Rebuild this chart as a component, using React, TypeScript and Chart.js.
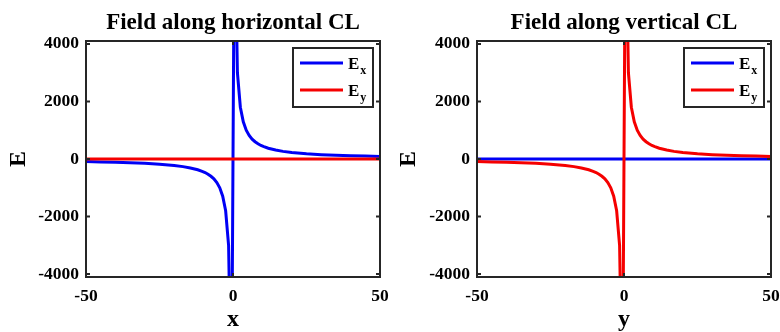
import React, { useEffect, useRef } from "react";
import { Chart, registerables } from "chart.js";

Chart.register(...registerables);

// Sample positions along the centre line (same grid for both cuts)
const positions = [
  -50, -45, -40, -35, -30, -25, -20, -17, -14.5, -12, -10.5, -9.5, -8.5, -7.5,
  -6.5, -5.5, -4.5, -3.5, -2.5, -1.5, -0.5, 0.5, 1.5, 2.5, 3.5, 4.5, 5.5, 6.5,
  7.5, 8.5, 9.5, 10.5, 12, 14.5, 17, 20, 25, 30, 35, 40, 45, 50,
];

// Ex along the horizontal centre line
const exHorizontal = [
  -90, -100, -112, -128, -150, -180, -225, -265, -310, -375, -430, -470, -530,
  -600, -690, -820, -1000, -1290, -1800, -3000, -9000, 9000, 3000, 1800, 1290,
  1000, 820, 690, 600, 530, 470, 430, 375, 310, 265, 225, 180, 150, 128, 112,
  100, 90,
];

// Ey along the vertical centre line
const eyVertical = [
  -90, -100, -112, -128, -150, -180, -225, -265, -310, -375, -430, -470, -530,
  -600, -690, -820, -1000, -1290, -1800, -3000, -9000, 9000, 3000, 1800, 1290,
  1000, 820, 690, 600, 530, 470, 430, 375, 310, 265, 225, 180, 150, 128, 112,
  100, 90,
];

// The transverse component vanishes on each centre line
const zeroPositions = [-50, 50];
const zeroField = [0, 0];

const xTicks = [-50, 0, 50];
const yTicks = [-4000, -2000, 0, 2000, 4000];
const xRange = [-50, 50];
const yRange = [-4100, 4100];

const BLUE = "#0000f5";
const RED = "#f50000";
const AXIS = "#262626";
const FONT = "'Liberation Serif', 'Times New Roman', serif";

type Panel = {
  title: string;
  axisLabel: string;
  ex: { x: number[]; y: number[] };
  ey: { x: number[]; y: number[] };
  yAxisWidth: number;
  padRight: number;
};

const panels: Panel[] = [
  {
    title: "Field along horizontal CL",
    axisLabel: "x",
    ex: { x: positions, y: exHorizontal },
    ey: { x: zeroPositions, y: zeroField },
    yAxisWidth: 86,
    padRight: 10,
  },
  {
    title: "Field along vertical CL",
    axisLabel: "y",
    ex: { x: zeroPositions, y: zeroField },
    ey: { x: positions, y: eyVertical },
    yAxisWidth: 87,
    padRight: 9,
  },
];

const legendEntries = [
  { base: "E", sub: "x", color: BLUE },
  { base: "E", sub: "y", color: RED },
];

// Box frame with inward ticks on all four sides
const framePlugin = {
  id: "frame",
  afterDatasetsDraw(chart: any) {
    const { ctx, chartArea: a, scales } = chart;
    const len = 4;
    ctx.save();
    ctx.strokeStyle = AXIS;
    ctx.lineWidth = 2;
    ctx.beginPath();
    for (const t of scales.x.ticks) {
      const px = scales.x.getPixelForValue(t.value);
      ctx.moveTo(px, a.bottom);
      ctx.lineTo(px, a.bottom - len);
      ctx.moveTo(px, a.top);
      ctx.lineTo(px, a.top + len);
    }
    for (const t of scales.y.ticks) {
      const py = scales.y.getPixelForValue(t.value);
      ctx.moveTo(a.left, py);
      ctx.lineTo(a.left + len, py);
      ctx.moveTo(a.right, py);
      ctx.lineTo(a.right - len, py);
    }
    ctx.stroke();
    ctx.strokeRect(a.left, a.top, a.right - a.left, a.bottom - a.top);
    ctx.restore();
  },
};

// Legend box in the upper right corner with subscripted labels
const legendPlugin = {
  id: "subLegend",
  afterDraw(chart: any) {
    const { ctx, chartArea: a } = chart;
    const w = 80;
    const h = 59;
    const left = a.right - 7 - w;
    const top = a.top + 7;
    ctx.save();
    ctx.fillStyle = "#ffffff";
    ctx.fillRect(left, top, w, h);
    ctx.strokeStyle = AXIS;
    ctx.lineWidth = 2;
    ctx.strokeRect(left, top, w, h);
    legendEntries.forEach((entry, i) => {
      const cy = top + 15 + i * 27;
      ctx.strokeStyle = entry.color;
      ctx.lineWidth = 3;
      ctx.beginPath();
      ctx.moveTo(left + 7, cy);
      ctx.lineTo(left + 50, cy);
      ctx.stroke();
      ctx.fillStyle = "#000000";
      ctx.textBaseline = "alphabetic";
      ctx.textAlign = "left";
      ctx.font = `bold 17px ${FONT}`;
      ctx.fillText(entry.base, left + 55, cy + 6);
      const bw = ctx.measureText(entry.base).width;
      ctx.font = `bold 12px ${FONT}`;
      ctx.fillText(entry.sub, left + 55 + bw + 1, cy + 11);
    });
    ctx.restore();
  },
};

const plainNumber = (v: number | string) => String(v);

function FieldPanel({ panel }: { panel: Panel }) {
  const ref = useRef<HTMLCanvasElement>(null);

  useEffect(() => {
    if (!ref.current) return;
    const toPoints = (s: { x: number[]; y: number[] }) =>
      s.x.map((x, i) => ({ x, y: s.y[i] }));

    const chart = new Chart(ref.current, {
      type: "line",
      data: {
        datasets: [
          {
            label: "Ex",
            data: toPoints(panel.ex),
            borderColor: BLUE,
            borderWidth: 3,
            pointRadius: 0,
            tension: 0,
            order: 1,
          },
          {
            label: "Ey",
            data: toPoints(panel.ey),
            borderColor: RED,
            borderWidth: 3,
            pointRadius: 0,
            tension: 0,
            order: 0,
          },
        ],
      },
      options: {
        responsive: false,
        animation: false,
        events: [],
        layout: { padding: { left: 0, right: panel.padRight, top: 0, bottom: 0 } },
        plugins: {
          legend: { display: false },
          tooltip: { enabled: false },
          title: {
            display: true,
            text: panel.title,
            fullSize: false,
            color: "#000000",
            font: { family: FONT, size: 23, weight: "bold", lineHeight: 1.2 },
            padding: { top: 9, bottom: 4.4 },
          },
        },
        scales: {
          x: {
            type: "linear",
            min: xRange[0],
            max: xRange[1],
            afterBuildTicks: (s: any) => {
              s.ticks = xTicks.map((v) => ({ value: v }));
            },
            afterFit: (s: any) => {
              s.height = 55;
              s.paddingLeft = 0;
              s.paddingRight = 0;
            },
            grid: { display: false, drawTicks: false },
            border: { display: false },
            ticks: {
              color: "#000000",
              padding: 9,
              maxRotation: 0,
              callback: plainNumber,
              font: { family: FONT, size: 17.5, weight: "bold" },
            },
            title: {
              display: true,
              text: panel.axisLabel,
              color: "#000000",
              font: { family: FONT, size: 24, weight: "bold", lineHeight: 1 },
              padding: { top: 0, bottom: 0 },
            },
          },
          y: {
            type: "linear",
            min: yRange[0],
            max: yRange[1],
            afterBuildTicks: (s: any) => {
              s.ticks = yTicks.map((v) => ({ value: v }));
            },
            afterFit: (s: any) => {
              s.width = panel.yAxisWidth;
            },
            grid: { display: false, drawTicks: false },
            border: { display: false },
            ticks: {
              color: "#000000",
              padding: 7,
              callback: plainNumber,
              font: { family: FONT, size: 17.5, weight: "bold" },
            },
            title: {
              display: true,
              text: "E",
              color: "#000000",
              font: { family: FONT, size: 24, weight: "bold", lineHeight: 1 },
              padding: { top: 7, bottom: 0 },
            },
          },
        },
      },
      plugins: [framePlugin, legendPlugin],
    } as any);

    return () => chart.destroy();
  }, [panel]);

  return <canvas ref={ref} width={390} height={332} style={{ display: "block" }} />;
}

export default function App() {
  return (
    <div
      style={{
        position: "fixed",
        left: 0,
        top: 0,
        width: 780,
        height: 332,
        display: "flex",
        background: "#ffffff",
        overflow: "hidden",
      }}
    >
      {panels.map((p) => (
        <FieldPanel key={p.title} panel={p} />
      ))}
    </div>
  );
}
